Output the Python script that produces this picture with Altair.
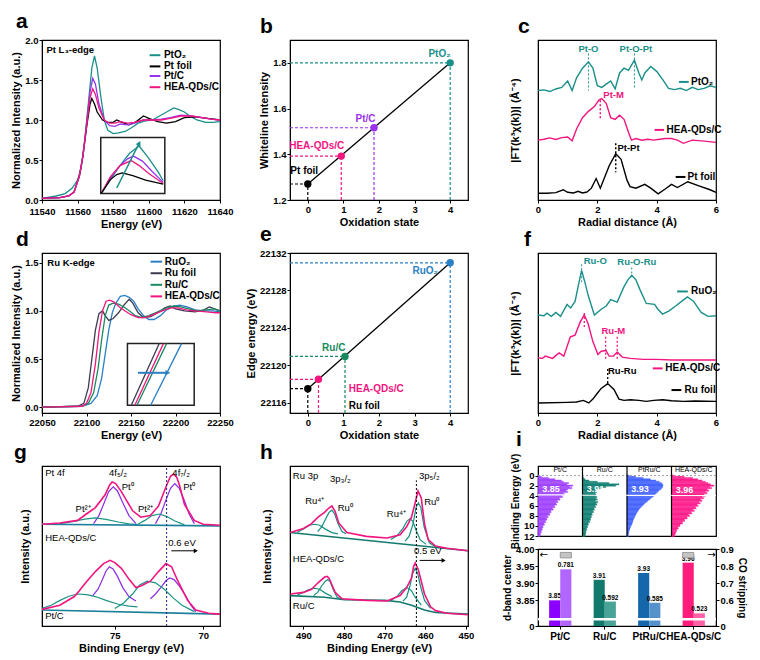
import altair as alt
import pandas as pd

FONT = "Liberation Sans"
TEAL = "#1a8f8a"; BLACK = "#000000"; PURPLE = "#9933ee"; PINK = "#f2157f"
BLUE = "#2b7fc4"; RUFOIL = "#3c3c50"; GREEN = "#178a5e"
W = 178; H = 160

# ---------------- a : Pt L3-edge XANES
A_PTO2_X = [11540,11548,11553,11557,11560,11562,11564,11566,11568,11569.5,11571,11573,11575,11577,11580,11583,11587,11590,11594,11598,11602,11606,11610,11614,11617,11620,11623,11627,11632,11636,11640]
A_PTO2_Y = [0.02,0.05,0.08,0.15,0.25,0.40,0.75,1.20,1.65,1.80,1.65,1.30,1.00,0.87,0.83,0.84,0.86,0.90,0.96,0.99,1.00,1.05,1.10,1.15,1.13,1.10,1.05,1.00,0.97,0.97,0.98]
A_FOIL_X = [11540,11550,11555,11558,11561,11563,11565,11567,11568,11569.5,11571,11574,11577,11580,11582,11585,11589,11593,11597,11600,11605,11610,11615,11620,11626,11633,11640]
A_FOIL_Y = [0.02,0.03,0.05,0.10,0.30,0.55,0.90,1.20,1.27,1.20,1.10,1.00,0.97,0.97,1.00,0.97,0.94,0.98,1.05,1.02,0.98,0.96,0.98,1.03,1.04,1.02,1.00]
A_PTC_X = [11540,11550,11555,11558,11561,11563,11565,11567,11568.5,11570,11572,11575,11578,11581,11584,11588,11592,11597,11602,11607,11612,11618,11624,11630,11635,11640]
A_PTC_Y = [0.02,0.03,0.05,0.10,0.30,0.55,0.95,1.35,1.52,1.45,1.20,1.00,0.93,0.92,0.95,0.94,0.96,1.00,1.00,1.01,1.03,1.06,1.05,1.03,1.01,1.00]
A_HEA_Y = [0.02,0.03,0.05,0.10,0.30,0.55,0.92,1.28,1.39,1.32,1.15,1.00,0.96,0.96,0.98,0.96,0.97,1.00,1.00,1.00,1.02,1.05,1.05,1.03,1.01,1.00]
AI_BOX = [11573, 11609, 0.08, 0.78]
AI_TEAL_X = [11573.4,11578.4,11583.8,11589.2,11594.6,11600.0,11605.4,11608.1]
AI_TEAL_Y = [0.087,0.255,0.43,0.584,0.675,0.521,0.346,0.241]
AI_PTC_X = [11573.4,11578.4,11583.8,11588.1,11591.4,11596.4,11601.8,11608.1]
AI_PTC_Y = [0.087,0.276,0.43,0.514,0.549,0.486,0.36,0.22]
AI_HEA_X = [11573.4,11578.4,11583.8,11590.1,11594.6,11600.0,11608.1]
AI_HEA_Y = [0.087,0.29,0.43,0.493,0.43,0.332,0.206]
AI_FOIL_X = [11573.4,11578.4,11582.0,11585.1,11591.0,11598.2,11608.1]
AI_FOIL_Y = [0.087,0.255,0.318,0.339,0.304,0.248,0.199]
AI_ARROW = [11582, 0.15, 11594.6, 0.71]
A_LEG = [("PtO₂", TEAL, 1.81), ("Pt foil", BLACK, 1.67), ("Pt/C", PURPLE, 1.55), ("HEA-QDs/C", PINK, 1.41)]

# ---------------- b : whiteline intensity
B_STATE = [0, 0.94, 1.86, 4]
B_WL = [1.27, 1.392, 1.516, 1.80]
B_COLS = [BLACK, PINK, PURPLE, TEAL]

# ---------------- c : Pt FT-EXAFS
C_PTO2_X = [0,0.2,0.4,0.6,0.8,1.0,1.15,1.3,1.5,1.7,1.85,2.0,2.15,2.3,2.45,2.6,2.75,2.9,3.05,3.25,3.4,3.5,3.6,3.8,4.0,4.2,4.4,4.6,4.8,5.0,5.2,5.4,5.6,5.8,6.0]
C_PTO2_Y = [3.42,3.44,3.39,3.47,3.52,3.72,3.42,3.82,4.12,4.32,4.12,3.57,3.52,3.62,3.72,3.47,3.97,4.12,4.05,4.37,3.97,3.75,3.97,4.17,4.02,3.77,3.49,3.45,3.49,3.42,3.52,3.45,3.49,3.57,3.52]
C_HEA_X = [0,0.2,0.4,0.6,0.8,1.0,1.15,1.3,1.5,1.7,1.9,2.05,2.15,2.3,2.45,2.6,2.75,2.9,3.05,3.15,3.3,3.5,3.7,3.9,4.1,4.3,4.5,4.7,4.9,5.2,5.6,6.0]
C_HEA_Y = [1.87,1.90,1.94,1.89,1.95,1.97,1.85,2.22,2.57,2.77,2.92,3.12,3.17,3.02,2.57,2.52,2.65,2.52,2.12,1.87,1.92,1.87,1.90,1.87,1.90,1.92,1.92,1.87,1.77,1.87,1.84,1.80]
C_FOIL_X = [0,0.3,0.6,0.85,1.0,1.2,1.35,1.5,1.65,1.8,1.96,2.1,2.25,2.4,2.62,2.8,3.0,3.1,3.3,3.6,3.8,4.05,4.3,4.5,4.7,5.05,5.4,5.8,6.0]
C_FOIL_Y = [0.21,0.21,0.23,0.32,0.24,0.22,0.27,0.22,0.25,0.37,0.67,0.37,0.72,1.07,1.45,1.27,0.62,0.42,0.37,0.49,0.37,0.19,0.35,0.49,0.39,0.57,0.45,0.32,0.24]

# ---------------- d : Ru K-edge XANES
D_RUO2_X = [22050,22095,22105,22112,22117,22121,22125,22129,22133,22138,22143,22148,22153,22158,22164,22170,22176,22183,22190,22198,22205,22213,22222,22232,22242,22250]
D_RUO2_Y = [0,0.01,0.04,0.12,0.30,0.55,0.80,0.98,1.08,1.15,1.16,1.14,1.10,1.02,0.95,0.91,0.91,0.95,1.01,1.05,1.06,1.04,1.01,1.00,1.00,0.99]
D_FOIL_X = [22050,22090,22097,22102,22106,22110,22114,22118,22121,22125,22130,22136,22142,22148,22152,22158,22164,22172,22180,22188,22194,22200,22210,22222,22232,22238,22244,22250]
D_FOIL_Y = [0,0.01,0.04,0.20,0.50,0.80,0.97,1.00,0.95,0.90,0.92,0.98,1.06,1.12,1.08,0.98,0.93,0.94,0.98,1.03,1.05,1.02,1.00,0.99,1.01,1.04,1.02,1.00]
D_RUC_X = [22050,22095,22102,22108,22113,22117,22121,22125,22130,22136,22142,22148,22155,22162,22170,22180,22190,22198,22206,22215,22225,22235,22243,22250]
D_RUC_Y = [0,0.01,0.04,0.15,0.40,0.70,0.95,1.06,1.08,1.07,1.04,1.00,0.95,0.93,0.95,0.99,1.03,1.05,1.04,1.02,1.00,1.01,1.02,1.00]
D_HEA_X = [22050,22095,22100,22105,22110,22114,22118,22122,22126,22131,22137,22143,22150,22158,22166,22175,22185,22195,22203,22212,22222,22235,22245,22250]
D_HEA_Y = [0,0.01,0.04,0.15,0.45,0.78,1.00,1.10,1.11,1.09,1.04,1.00,0.96,0.93,0.93,0.96,1.00,1.03,1.03,1.01,1.00,0.99,0.98,0.98]
DI_BOX = [22146, 22221, 0.02, 0.66]
DI_LINES = [("Ru foil", RUFOIL, 22150.3, 22181.7), ("HEA-QDs/C", PINK, 22154.3, 22186.4),
            ("Ru/C", GREEN, 22156.7, 22190.0), ("RuO₂", BLUE, 22172.1, 22206.8)]
DI_ARROW = [22157.8, 22191.4, 0.357]
D_LEG = [("RuO₂", BLUE, 1.51), ("Ru foil", RUFOIL, 1.39), ("Ru/C", GREEN, 1.27), ("HEA-QDs/C", PINK, 1.15)]

# ---------------- e : edge energy
E_STATE = [0, 0.30, 1.045, 4]
E_EDGE = [22117.5, 22118.5, 22120.95, 22130.95]
E_COLS = [BLACK, PINK, GREEN, BLUE]

# ---------------- f : Ru FT-EXAFS
F_RUO2_X = [0,0.2,0.3,0.45,0.6,0.76,0.98,1.1,1.25,1.36,1.47,1.58,1.7,1.9,2.13,2.3,2.45,2.67,2.9,3.03,3.16,3.3,3.44,3.65,3.93,4.04,4.2,4.42,4.64,4.85,5.04,5.24,5.5,5.73,6.0]
F_RUO2_Y = [3.03,3.01,3.09,2.99,3.11,2.99,3.36,3.25,3.45,3.95,4.41,4.05,3.61,3.03,3.21,3.31,3.51,3.43,3.91,4.12,4.26,4.12,3.81,3.39,3.36,3.21,3.06,3.16,3.31,3.46,3.59,3.46,3.11,2.99,3.01]
F_HEA_X = [0,0.15,0.25,0.49,0.71,0.87,1.09,1.25,1.42,1.56,1.69,1.85,2.02,2.13,2.29,2.4,2.54,2.67,2.84,3.11,3.55,3.98,4.53,5.07,6.0]
F_HEA_Y = [1.71,1.69,1.76,1.69,1.86,1.76,2.36,2.41,2.81,3.04,2.76,2.21,1.81,1.91,1.93,1.76,1.76,1.89,1.73,1.69,1.66,1.66,1.64,1.64,1.64]
F_FOIL_X = [0,1.0,1.3,1.53,1.71,1.85,2.0,2.13,2.35,2.56,2.73,2.9,3.11,3.4,3.65,3.9,4.2,4.5,4.9,5.3,6.0]
F_FOIL_Y = [0.31,0.33,0.34,0.39,0.31,0.43,0.61,0.76,0.91,0.73,0.43,0.39,0.41,0.39,0.36,0.39,0.41,0.38,0.36,0.37,0.36]

# ---------------- g : Pt 4f XPS
G_HEA_ENV_X = [79.12,78.11,77.11,76.61,76.10,75.55,75.30,75.15,74.95,74.63,73.99,73.53,72.99,72.53,72.07,71.85,71.67,71.5,71.34,71.06,70.51,70.0,69.05]
G_HEA_ENV_Y = [3.18,3.22,3.30,3.50,3.70,4.10,4.40,4.50,4.45,4.20,3.60,3.40,3.45,3.75,4.40,4.68,4.75,4.65,4.40,3.80,3.30,3.18,3.15]
G_HEA_COMPS = [
    ("h_p1", "pt0", [76.2,75.9,75.6,75.35,75.09,74.85,74.55,74.2,73.8], [3.2,3.45,3.85,4.2,4.35,4.22,3.85,3.45,3.2], 3.17),
    ("h_p2", "pt0", [72.7,72.4,72.1,71.85,71.61,71.35,71.05,70.8,70.5], [3.2,3.5,3.95,4.3,4.45,4.3,3.9,3.5,3.2], 3.15),
    ("h_t1", "pt2", [78.1,77.4,76.7,76.1,75.5,74.8,74.2,73.7], [3.2,3.26,3.34,3.38,3.33,3.25,3.19,3.17], 3.16),
    ("h_t2", "pt2", [73.7,73.3,72.9,72.47,72.05,71.6,71.06], [3.18,3.3,3.45,3.5,3.42,3.28,3.16], 3.15),
]
G_HEA_BASE = ([79.12, 69.05], [3.18, 3.13])
G_PTC_ENV_X = [79.12,78.11,77.29,77.01,76.65,76.10,75.64,75.27,75.0,74.63,74.18,73.81,73.53,72.99,72.53,72.11,71.79,71.43,70.88,70.42,69.69,69.05]
G_PTC_ENV_Y = [0.52,0.65,0.92,1.10,1.35,1.70,1.95,2.05,1.98,1.80,1.45,1.20,1.25,1.40,1.70,1.95,1.85,1.40,0.80,0.50,0.40,0.37]
G_PTC_COMPS = [
    ("c_p1", "pt0", [76.25,75.95,75.7,75.5,75.31,75.1,74.85,74.55,74.2,73.81], [0.95,1.15,1.45,1.72,1.85,1.78,1.55,1.2,0.92,0.78], 0.46),
    ("c_p2", "pt0", [72.99,72.7,72.4,72.1,71.89,71.65,71.35,71.0,70.7,70.42], [0.85,1.0,1.2,1.42,1.5,1.45,1.25,0.95,0.65,0.45], 0.42),
    ("c_t1", "pt2", [79.12,78.6,78.1,77.6,77.11,76.6,76.1,75.5,74.8,74.2,73.72], [0.55,0.65,0.8,0.93,1.0,0.98,0.92,0.8,0.68,0.62,0.6], 0.48),
    ("c_t2", "pt2", [75.0,74.5,74.0,73.6,73.17,72.7,72.2,71.7,71.2,70.5], [0.55,0.72,1.0,1.28,1.4,1.35,1.15,0.88,0.65,0.45], 0.42),
]
G_PTC_BASE = ([79.12, 69.05], [0.50, 0.37])
G_SHIFT_LINE = 72.07

# ---------------- h : Ru 3p XPS
H_HEA_ENV_X = [493.2,490,488,486.4,484.8,483.8,483.0,482.2,481.3,479.3,474.5,469.4,466.2,464.6,463.4,462.5,461.8,461.0,460.2,459.3,457.5,454.7,449.5]
H_HEA_ENV_Y = [2.92,3.05,3.20,3.40,3.55,3.68,3.75,3.58,3.22,2.92,2.80,2.75,2.85,3.10,3.40,3.85,4.22,4.00,3.20,2.70,2.50,2.43,2.35]
H_HEA_COMPS = [
    ("hh1", [486.5,485.5,484.5,483.7,483.0,482.3,481.5,480.5,479.5], [2.95,3.1,3.35,3.55,3.62,3.5,3.2,2.95,2.88], 2.85),
    ("hh2", [491.5,490,488.5,487.2,486,484.5,483,481.5], [2.93,3.03,3.15,3.18,3.15,3.02,2.92,2.88], 2.86),
    ("hh3", [465,464,463,462.3,461.7,461.1,460.3,459,457.5], [2.65,2.8,3.2,3.7,3.85,3.7,3.1,2.6,2.48], 2.45),
    ("hh4", [468.5,467,465.5,464.5,463.8,463.1,462.3,461.3,459.8], [2.7,2.82,3.05,3.28,3.35,3.28,3.0,2.7,2.55], 2.5),
]
H_HEA_BASE = ([493.3, 449.5], [2.92, 2.35])
H_RUC_ENV_X = [493.2,490,488,486.4,484.8,484.2,483.7,482.2,480.5,474.5,469.4,466.2,464.6,463.4,462.9,462.5,461.7,460.2,458.7,457.5,454.7,449.5]
H_RUC_ENV_Y = [1.0,1.05,1.15,1.35,1.53,1.55,1.50,1.05,0.85,0.80,0.78,0.95,1.20,1.50,1.85,1.97,1.75,1.00,0.60,0.48,0.40,0.35]
H_RUC_COMPS = [
    ("hc1", [487.5,486.5,485.5,484.6,484.0,483.4,482.7,481.7,480.7], [0.95,1.05,1.25,1.4,1.45,1.38,1.15,0.9,0.85], 0.84),
    ("hc2", [491.5,490,488.5,487.2,486,484.5,483], [0.97,1.05,1.15,1.18,1.15,1.02,0.92], 0.9),
    ("hc3", [465.5,464.6,463.8,463.1,462.5,461.9,461.2,460.2,458.7], [0.78,0.9,1.25,1.65,1.8,1.65,1.25,0.8,0.55], 0.5),
    ("hc4", [468.5,467,465.8,464.6,463.5,462.5,461], [0.8,0.92,1.1,1.2,1.12,0.9,0.65], 0.6),
]
H_RUC_BASE = ([493.2,484.8,479.9,469.9,466.2,463.4,460.2,457.5,449.5], [0.95,0.90,0.82,0.80,0.75,0.65,0.50,0.42,0.37])
H_SHIFT_LINE = 462.2

# ---------------- i : d-band DOS and bars
DOS_E = [0,0.25,0.5,0.75,1,1.25,1.5,1.75,2,2.25,2.5,2.75,3,3.25,3.5,3.75,4,4.25,4.5,4.75,5,5.25,5.5,5.75,6,6.25,6.5,6.75,7,7.25,7.5,7.75,8,8.25,8.5,8.75,9,9.25,9.5,9.75,10,10.25,10.5,10.75,11,11.25,11.5,11.75,12]
DOS_PTC = [0.02,0.08,0.25,0.4,0.55,0.6,0.72,0.68,0.82,0.75,0.8,0.7,0.66,0.7,0.6,0.63,0.56,0.58,0.5,0.52,0.45,0.47,0.42,0.44,0.38,0.4,0.34,0.36,0.3,0.31,0.27,0.28,0.22,0.24,0.2,0.21,0.17,0.18,0.14,0.15,0.11,0.12,0.09,0.1,0.07,0.08,0.05,0.06,0.04]
DOS_RUC = [0.0,0.01,0.03,0.06,0.15,0.35,0.62,0.86,0.78,0.55,0.42,0.36,0.3,0.33,0.29,0.32,0.3,0.34,0.31,0.35,0.3,0.36,0.32,0.34,0.29,0.31,0.27,0.28,0.24,0.26,0.22,0.23,0.2,0.21,0.18,0.19,0.16,0.17,0.13,0.14,0.11,0.12,0.09,0.1,0.08,0.08,0.07,0.07,0.06]
DOS_PTRU = [0.05,0.2,0.38,0.55,0.68,0.76,0.81,0.84,0.85,0.84,0.82,0.79,0.75,0.72,0.69,0.66,0.63,0.6,0.56,0.53,0.49,0.46,0.42,0.39,0.36,0.33,0.3,0.28,0.26,0.24,0.22,0.21,0.19,0.18,0.16,0.15,0.14,0.13,0.12,0.11,0.09,0.08,0.07,0.06,0.05,0.04,0.04,0.03,0.03]
DOS_HEA = [0.05,0.3,0.5,0.62,0.72,0.8,0.86,0.92,1.0,0.9,0.95,0.84,0.88,0.8,0.84,0.76,0.8,0.72,0.76,0.68,0.72,0.64,0.68,0.6,0.63,0.56,0.58,0.5,0.54,0.46,0.48,0.4,0.43,0.36,0.37,0.3,0.31,0.25,0.26,0.2,0.2,0.15,0.16,0.12,0.12,0.1,0.09,0.08,0.07]
CATS = ["Pt/C", "Ru/C", "PtRu/C", "HEA-QDs/C"]
DBAND = [3.85, 3.91, 3.93, 3.96]
COSTRIP = [0.781, 0.592, 0.585, 0.523]
DOS_COLS = ["#a040ff", "#0e7f72", "#4060ff", "#ff1a8c"]
DB_COLS = ["#8c00ff", "#117a6c", "#1566aa", "#ff1c7c"]
CO_COLS = ["#b066ff", "#4aa397", "#5592cc", "#ff62a4"]


# ================= helpers
def mk_df(series):
    rows = []
    for name, col, xs, ys in series:
        for k, (x, y) in enumerate(zip(xs, ys)):
            rows.append(dict(s=name, col=col, x=x, y=y, k=k))
    return pd.DataFrame(rows)


def lines(df, X, Y, sw=1.3, dash=None):
    kw = dict(strokeWidth=sw)
    if dash:
        kw["strokeDash"] = dash
    return alt.Chart(df).mark_line(**kw).encode(
        x=X, y=Y, color=alt.Color("col:N", scale=None), detail="s:N", order="k:Q")


def texts(rows, X, Y, size=10, weight="bold", align="center", baseline="middle"):
    df = pd.DataFrame(rows, columns=["t", "x", "y", "col"])
    return alt.Chart(df).mark_text(font=FONT, fontSize=size, fontWeight=weight,
                                   align=align, baseline=baseline).encode(
        x=X, y=Y, text="t:N", color=alt.Color("col:N", scale=None))


def hsegs(rows, X, Y, sw=1.5, dash=None):
    df = pd.DataFrame(rows, columns=["x", "x2", "y", "col"])
    kw = dict(strokeWidth=sw)
    if dash:
        kw["strokeDash"] = dash
    return alt.Chart(df).mark_rule(**kw).encode(
        x=X, x2="x2:Q", y=Y, color=alt.Color("col:N", scale=None))


def vsegs(rows, X, Y, sw=1.0, dash=None):
    df = pd.DataFrame(rows, columns=["x", "y", "y2", "col"])
    kw = dict(strokeWidth=sw)
    if dash:
        kw["strokeDash"] = dash
    return alt.Chart(df).mark_rule(**kw).encode(
        x=X, y=Y, y2="y2:Q", color=alt.Color("col:N", scale=None))


def heads(rows, X, Y, shape, angle=0, size=28):
    df = pd.DataFrame(rows, columns=["x", "y", "col"])
    return alt.Chart(df).mark_point(shape=shape, filled=True, size=size, angle=angle, opacity=1).encode(
        x=X, y=Y, color=alt.Color("col:N", scale=None))


def box(b, X, Y, sw=1.5):
    df = pd.DataFrame([dict(x=b[0], x2=b[1], y=b[2], y2=b[3])])
    return alt.Chart(df).mark_rect(fill="white", stroke="#222222", strokeWidth=sw).encode(
        x=X, x2="x2:Q", y=Y, y2="y2:Q")


def grad_area(comps, X, Y, top):
    rows = []
    for name, xs, ys, b in comps:
        for k, (x, y) in enumerate(zip(xs, ys)):
            rows.append(dict(s=name, x=x, y=y, b=b, k=k))
    g = alt.Gradient(gradient="linear", x1=0, x2=0, y1=0, y2=1,
                     stops=[alt.GradientStop(color=top, offset=0),
                            alt.GradientStop(color="#ffffff", offset=1)])
    return alt.Chart(pd.DataFrame(rows)).mark_area(color=g, opacity=0.9).encode(
        x=X, y=Y, y2="b:Q", detail="s:N", order="k:Q")


def ptitle(letter, dx):
    return alt.TitleParams(text=letter, anchor="start", frame="group", fontSize=21,
                           fontWeight="bold", font=FONT, color="black", dx=dx, offset=3)


# ================= panel a
XA = alt.X("x:Q", scale=alt.Scale(domain=[11540, 11640], nice=False),
           axis=alt.Axis(title="Energy (eV)", values=[11540, 11560, 11580, 11600, 11620, 11640], format="d",
                         labelPadding=3))
YA = alt.Y("y:Q", scale=alt.Scale(domain=[0, 2.0], nice=False),
           axis=alt.Axis(title="Normalized Intensity (a.u.)", values=[0, 0.5, 1.0, 1.5, 2.0], format=".1f"))
a_main = mk_df([("PtO2", TEAL, A_PTO2_X, A_PTO2_Y), ("foil", BLACK, A_FOIL_X, A_FOIL_Y),
                ("PtC", PURPLE, A_PTC_X, A_PTC_Y), ("HEA", PINK, A_PTC_X, A_HEA_Y)])
a_ins = mk_df([("PtO2", TEAL, AI_TEAL_X, AI_TEAL_Y), ("PtC", PURPLE, AI_PTC_X, AI_PTC_Y),
               ("HEA", PINK, AI_HEA_X, AI_HEA_Y), ("foil", BLACK, AI_FOIL_X, AI_FOIL_Y)])
a_arrow = mk_df([("arr", TEAL, [AI_ARROW[0], AI_ARROW[2]], [AI_ARROW[1], AI_ARROW[3]])])
pa = alt.layer(
    lines(a_main, XA, YA),
    box(AI_BOX, XA, YA),
    lines(a_ins, XA, YA, sw=1.3),
    lines(a_arrow, XA, YA, sw=1.5),
    heads([(AI_ARROW[2], AI_ARROW[3], TEAL)], XA, YA, "triangle-up", angle=26, size=30),
    hsegs([(11600.5, 11606.5, y, c) for _, c, y in A_LEG], XA, YA, sw=2),
    texts([(n, 11608.5, y, BLACK) for n, _, y in A_LEG], XA, YA, size=10, align="left"),
    texts([("Pt L₃-edge", 11542.5, 1.88, BLACK)], XA, YA, size=9.5, align="left"),
).properties(width=W, height=H, title=ptitle("a", -26))

# ================= panel b
XBo = alt.X("x:Q", scale=alt.Scale(domain=[-0.5, 4.5], nice=False),
            axis=alt.Axis(title="Oxidation state", values=[0, 1, 2, 3, 4], format="d"))
YBo = alt.Y("y:Q", scale=alt.Scale(domain=[1.2, 1.9], nice=False),
            axis=alt.Axis(title="Whiteline Intensity", values=[1.2, 1.4, 1.6, 1.8], format=".1f"))
b_pts = pd.DataFrame(dict(x=B_STATE, y=B_WL, col=B_COLS))
b_fit = mk_df([("fit", BLACK, [B_STATE[0], B_STATE[-1]], [B_WL[0], B_WL[-1]])])
pb = alt.layer(
    hsegs([(-0.5, x, y, c) for x, y, c in zip(B_STATE, B_WL, B_COLS)], XBo, YBo, sw=1.2, dash=[3, 2]),
    vsegs([(x, 1.2, y, c) for x, y, c in zip(B_STATE, B_WL, B_COLS)], XBo, YBo, sw=1.2, dash=[3, 2]),
    lines(b_fit, XBo, YBo, sw=1.3),
    alt.Chart(b_pts).mark_circle(size=55, opacity=1).encode(x=XBo, y=YBo, color=alt.Color("col:N", scale=None)),
    texts([("PtO₂", 3.7, 1.838, TEAL), ("Pt/C", 1.62, 1.556, PURPLE),
           ("HEA-QDs/C", 0.25, 1.437, PINK), ("Pt foil", -0.1, 1.326, BLACK)], XBo, YBo, size=10),
).properties(width=W, height=H, title=ptitle("b", -30))

# ================= panel c
FT_TITLE = "|FT(k³χ(k))| (Å⁻⁴)"
XC = alt.X("x:Q", scale=alt.Scale(domain=[0, 6], nice=False),
           axis=alt.Axis(title="Radial distance (Å)", values=[0, 2, 4, 6], format="d"))
YC = alt.Y("y:Q", scale=alt.Scale(domain=[0, 5.0], nice=False),
           axis=alt.Axis(title=FT_TITLE, labels=False, ticks=False, titlePadding=18))
c_df = mk_df([("PtO2", TEAL, C_PTO2_X, C_PTO2_Y), ("HEA", PINK, C_HEA_X, C_HEA_Y), ("foil", BLACK, C_FOIL_X, C_FOIL_Y)])
pc = alt.layer(
    vsegs([(1.7, 4.58, 3.42, TEAL), (3.25, 4.58, 3.47, TEAL)], XC, YC, sw=1, dash=[2, 2]),
    vsegs([(2.1, 3.12, 2.52, PINK), (2.62, 1.77, 0.87, BLACK)], XC, YC, sw=1.5, dash=[2, 2]),
    lines(c_df, XC, YC, sw=1.4),
    texts([("Pt-O", 1.7, 4.72, TEAL), ("Pt-O-Pt", 3.3, 4.72, TEAL), ("Pt-M", 2.55, 3.27, PINK),
           ("Pt-Pt", 3.05, 1.62, BLACK)], XC, YC, size=9.5),
    hsegs([(4.75, 5.08, 3.69, TEAL), (3.93, 4.25, 2.19, PINK), (4.64, 4.97, 0.72, BLACK)], XC, YC, sw=2),
    texts([("PtO₂", 5.16, 3.69, BLACK), ("HEA-QDs/C", 4.33, 2.19, BLACK), ("Pt foil", 5.04, 0.72, BLACK)],
          XC, YC, size=10, align="left"),
).properties(width=W, height=H, title=ptitle("c", -20))

# ================= panel d
XD = alt.X("x:Q", scale=alt.Scale(domain=[22050, 22250], nice=False),
           axis=alt.Axis(title="Energy (eV)", values=[22050, 22100, 22150, 22200, 22250], format="d"))
YD = alt.Y("y:Q", scale=alt.Scale(domain=[-0.06, 1.6], nice=False),
           axis=alt.Axis(title="Normalized Intensity (a.u.)", values=[0, 0.5, 1.0, 1.5], format=".1f"))
d_df = mk_df([("RuO2", BLUE, D_RUO2_X, D_RUO2_Y), ("foil", RUFOIL, D_FOIL_X, D_FOIL_Y),
              ("RuC", GREEN, D_RUC_X, D_RUC_Y), ("HEA", PINK, D_HEA_X, D_HEA_Y)])
di_df = mk_df([(n, c, [x0, x1], [DI_BOX[2], DI_BOX[3]]) for n, c, x0, x1 in DI_LINES])
di_arr = mk_df([("arr", BLUE, [DI_ARROW[0], DI_ARROW[1]], [DI_ARROW[2], DI_ARROW[2]])])
pd_ = alt.layer(
    lines(d_df, XD, YD),
    box(DI_BOX, XD, YD),
    lines(di_df, XD, YD, sw=1.3),
    lines(di_arr, XD, YD, sw=2),
    heads([(DI_ARROW[1], DI_ARROW[2], BLUE)], XD, YD, "triangle-right", size=30),
    hsegs([(22172, 22185, y, c) for _, c, y in D_LEG], XD, YD, sw=2),
    texts([(n, 22188, y, BLACK) for n, _, y in D_LEG], XD, YD, size=10, align="left"),
    texts([("Ru K-edge", 22056, 1.5, BLACK)], XD, YD, size=9.5, align="left"),
).properties(width=W, height=H, title=ptitle("d", -26))

# ================= panel e
XE = alt.X("x:Q", scale=alt.Scale(domain=[-0.5, 4.5], nice=False),
           axis=alt.Axis(title="Oxidation state", values=[0, 1, 2, 3, 4], format="d"))
YE = alt.Y("y:Q", scale=alt.Scale(domain=[22114.9, 22132], nice=False, zero=False),
           axis=alt.Axis(title="Edge energy (eV)", values=[22116, 22120, 22124, 22128, 22132], format="d"))
e_pts = pd.DataFrame(dict(x=E_STATE, y=E_EDGE, col=E_COLS))
e_fit = mk_df([("fit", BLACK, [E_STATE[0], E_STATE[-1]], [E_EDGE[0], E_EDGE[-1]])])
pe = alt.layer(
    hsegs([(-0.5, x, y, c) for x, y, c in zip(E_STATE, E_EDGE, E_COLS)], XE, YE, sw=1.2, dash=[3, 2]),
    vsegs([(x, 22114.9, y, c) for x, y, c in zip(E_STATE, E_EDGE, E_COLS)], XE, YE, sw=1.2, dash=[3, 2]),
    lines(e_fit, XE, YE, sw=1.3),
    alt.Chart(e_pts).mark_circle(size=55, opacity=1).encode(x=XE, y=YE, color=alt.Color("col:N", scale=None)),
    texts([("RuO₂", 3.3, 22130.1, BLUE), ("Ru/C", 0.73, 22121.9, GREEN)], XE, YE, size=10),
    texts([("HEA-QDs/C", 1.15, 22117.5, PINK), ("Ru foil", 1.15, 22115.7, BLACK)], XE, YE, size=10, align="left"),
).properties(width=W, height=H, title=ptitle("e", -30))

# ================= panel f
XF = alt.X("x:Q", scale=alt.Scale(domain=[0, 6], nice=False),
           axis=alt.Axis(title="Radial distance (Å)", values=[0, 2, 4, 6], format="d"))
YF = alt.Y("y:Q", scale=alt.Scale(domain=[0, 4.95], nice=False),
           axis=alt.Axis(title=FT_TITLE, labels=False, ticks=False, titlePadding=18))
f_df = mk_df([("RuO2", TEAL, F_RUO2_X, F_RUO2_Y), ("HEA", PINK, F_HEA_X, F_HEA_Y), ("foil", BLACK, F_FOIL_X, F_FOIL_Y)])
pf = alt.layer(
    vsegs([(1.47, 4.6, 4.05, TEAL), (3.16, 4.5, 4.2, TEAL)], XF, YF, sw=1, dash=[2, 2]),
    vsegs([(1.56, 3.09, 2.66, PINK), (2.28, 2.36, 1.66, PINK), (2.67, 2.36, 1.66, PINK),
           (2.35, 1.36, 0.91, BLACK)], XF, YF, sw=1.3, dash=[2, 2]),
    lines(f_df, XF, YF, sw=1.4),
    texts([("Ru-O", 1.93, 4.69, TEAL), ("Ru-O-Ru", 3.33, 4.66, TEAL), ("Ru-M", 2.54, 2.53, PINK),
           ("Ru-Ru", 2.84, 1.29, BLACK)], XF, YF, size=9.5),
    hsegs([(4.69, 5.05, 3.76, TEAL), (3.87, 4.2, 1.38, PINK), (4.5, 4.83, 0.71, BLACK)], XF, YF, sw=2),
    texts([("RuO₂", 5.16, 3.76, BLACK), ("HEA-QDs/C", 4.29, 1.38, BLACK), ("Ru foil", 4.94, 0.71, BLACK)],
          XF, YF, size=10, align="left"),
).properties(width=W, height=H, title=ptitle("f", -14))

# ================= panel g
XG = alt.X("x:Q", scale=alt.Scale(domain=[69.05, 79.12], reverse=True, nice=False, zero=False),
           axis=alt.Axis(title="Binding Energy (eV)", values=[70, 75], format="d"))
YG = alt.Y("y:Q", scale=alt.Scale(domain=[0, 5], nice=False),
           axis=alt.Axis(title="Intensity (a.u.)", labels=False, ticks=False, titlePadding=12))
g_pt0 = [(n, xs, ys, b) for n, k, xs, ys, b in G_HEA_COMPS + G_PTC_COMPS if k == "pt0"]
g_pt2 = [(n, xs, ys, b) for n, k, xs, ys, b in G_HEA_COMPS + G_PTC_COMPS if k == "pt2"]
g_cl = mk_df([(n, "#8a2be2" if k == "pt0" else "#1b9485", xs, ys) for n, k, xs, ys, b in G_HEA_COMPS + G_PTC_COMPS])
g_base = mk_df([("b1", "#1a7f9a", *G_HEA_BASE), ("b2", "#1a7f9a", *G_PTC_BASE)])
g_env = mk_df([("e1", PINK, G_HEA_ENV_X, G_HEA_ENV_Y), ("e2", PINK, G_PTC_ENV_X, G_PTC_ENV_Y)])
g_arr = mk_df([("arr", BLACK, [71.8, 70.42], [2.35, 2.35])])
pg = alt.layer(
    grad_area(g_pt2, XG, YG, "#7ccfc0"),
    grad_area(g_pt0, XG, YG, "#c27be6"),
    lines(g_cl, XG, YG, sw=1.2),
    lines(g_base, XG, YG, sw=1.6),
    lines(g_env, XG, YG, sw=1.6),
    vsegs([(G_SHIFT_LINE, 0, 5, "#1a237e")], XG, YG, sw=1, dash=[2, 2]),
    lines(g_arr, XG, YG, sw=1),
    heads([(70.42, 2.35, BLACK)], XG, YG, "triangle-right", size=22),
    texts([("4f₅/₂", 74.82, 4.78, BLACK), ("Pt⁰", 74.27, 4.35, BLACK), ("Pt²⁺", 76.79, 3.66, BLACK),
           ("Pt²⁺", 73.26, 3.66, BLACK), ("4f₇/₂", 71.25, 4.78, BLACK), ("Pt⁰", 70.79, 4.35, BLACK),
           ("0.6 eV", 71.2, 2.6, BLACK)], XG, YG, size=9.5, weight="normal"),
    texts([("Pt 4f", 78.94, 4.78, BLACK), ("HEA-QDs/C", 78.94, 2.75, BLACK), ("Pt/C", 78.94, 0.3, BLACK)],
          XG, YG, size=9.5, weight="normal", align="left"),
).properties(width=W, height=H, title=ptitle("g", -28))

# ================= panel h
XH = alt.X("x:Q", scale=alt.Scale(domain=[449.5, 493.3], reverse=True, nice=False, zero=False),
           axis=alt.Axis(title="Binding Energy (eV)", values=[450, 460, 470, 480, 490], format="d"))
YH = alt.Y("y:Q", scale=alt.Scale(domain=[0, 5], nice=False),
           axis=alt.Axis(title="Intensity (a.u.)", labels=False, ticks=False, titlePadding=18))
h_comps = H_HEA_COMPS + H_RUC_COMPS
h_cl = mk_df([(n, "#12907f", xs, ys) for n, xs, ys, b in h_comps])
h_base = mk_df([("b1", "#147a6e", *H_HEA_BASE), ("b2", "#147a6e", *H_RUC_BASE)])
h_env = mk_df([("e1", PINK, H_HEA_ENV_X, H_HEA_ENV_Y), ("e2", PINK, H_RUC_ENV_X, H_RUC_ENV_Y)])
h_arr = mk_df([("arr", BLACK, [461.4, 455.5], [2.05, 2.05])])
ph = alt.layer(
    grad_area(h_comps, XH, YH, "#6cc7b6"),
    lines(h_cl, XH, YH, sw=1.2),
    lines(h_base, XH, YH, sw=1.6),
    lines(h_env, XH, YH, sw=1.6),
    vsegs([(H_SHIFT_LINE, 0, 4.55, BLACK)], XH, YH, sw=1, dash=[2, 2]),
    lines(h_arr, XH, YH, sw=1),
    heads([(455.5, 2.05, BLACK)], XH, YH, "triangle-right", size=22),
    texts([("3p₃/₂", 480.9, 4.6, BLACK), ("3p₅/₂", 459.0, 4.68, BLACK), ("Ru⁴⁺", 487.2, 3.9, BLACK),
           ("Ru⁰", 479.7, 3.68, BLACK), ("Ru⁴⁺", 467.1, 3.5, BLACK), ("Ru⁰", 458.4, 3.88, BLACK),
           ("0.5 eV", 459.4, 2.35, BLACK)], XH, YH, size=9.5, weight="normal"),
    texts([("Ru 3p", 492.6, 4.68, BLACK), ("HEA-QDs/C", 492.6, 2.1, BLACK), ("Ru/C", 492.6, 0.62, BLACK)],
          XH, YH, size=9.5, weight="normal", align="left"),
).properties(width=W, height=H, title=ptitle("h", -30))

# ================= panel i (top: four DOS strips in one view, bottom: bars)
PSTEP = 1.05
dos_rows = []
for k, vals in enumerate([DOS_PTC, DOS_RUC, DOS_PTRU, DOS_HEA]):
    for e, v in zip(DOS_E, vals):
        dos_rows.append(dict(k=k, E=e, v=v, col=DOS_COLS[k]))
dos_df = pd.DataFrame(dos_rows)
YS_DOS = alt.Scale(domain=[-1.9, 12], reverse=True, nice=False, zero=False)
YAX_DOS = alt.Axis(title="Binding Energy (eV)", values=[0, 2, 4, 6, 8, 10, 12], format="d", titleFontSize=10)


def ydos(field):
    return alt.Y(field, scale=YS_DOS, axis=YAX_DOS)


XDos = alt.X("xx:Q", scale=alt.Scale(domain=[0, 4 * PSTEP], nice=False, zero=False), axis=None)
meta_df = pd.DataFrame(dict(k=[0, 1, 2, 3], name=CATS, c=DBAND, lab=[f"{v:.2f}" for v in DBAND]))
dos_rect = alt.Chart(dos_df).transform_calculate(
    xx=f"datum.k * {PSTEP} + datum.v", x0=f"datum.k * {PSTEP}",
    ylo="datum.E - 0.125", yhi="datum.E + 0.125"
).mark_rect(strokeWidth=0.4, opacity=0.95).encode(
    x=XDos, x2="x0:Q", y=ydos("ylo:Q"), y2="yhi:Q",
    color=alt.Color("col:N", scale=None), stroke=alt.Stroke("col:N", scale=None))
dos_zero = alt.Chart(pd.DataFrame({"E": [0]})).mark_rule(
    color="#888888", strokeDash=[2, 2], strokeWidth=0.8).encode(y=ydos("E:Q"))
dos_sep = alt.Chart(meta_df[meta_df.k > 0]).transform_calculate(xx=f"datum.k * {PSTEP}").mark_rule(
    color="black", strokeWidth=1.2).encode(x=XDos)
dos_cen = alt.Chart(meta_df).transform_calculate(
    xx=f"datum.k * {PSTEP}", xe=f"datum.k * {PSTEP} + {PSTEP}"
).mark_rule(color="white", strokeWidth=1.2).encode(x=XDos, x2="xe:Q", y=ydos("c:Q"))
dos_lab = alt.Chart(meta_df).transform_calculate(
    xx=f"datum.k * {PSTEP} + 0.1"
).mark_text(font=FONT, fontSize=9, fontWeight="bold", color="white", align="left", baseline="bottom", dy=-1).encode(
    x=XDos, y=ydos("c:Q"), text="lab:N")
dos_nm = alt.Chart(meta_df).transform_calculate(
    xx=f"datum.k * {PSTEP} + {PSTEP / 2}", ey="-1.05"
).mark_text(font=FONT, fontSize=7, color="black", baseline="middle").encode(x=XDos, y=ydos("ey:Q"), text="name:N")
dos_chart = alt.layer(dos_rect, dos_zero, dos_sep, dos_cen, dos_lab, dos_nm).properties(
    width=W, height=70, title=ptitle("i", -22))

XBar = alt.X("cat:N", scale=alt.Scale(domain=CATS, paddingInner=0.5, paddingOuter=0.25),
             axis=alt.Axis(title=None, labelAngle=0, labelFontSize=10, labelPadding=2))
XOff = alt.XOffset("s:N", scale=alt.Scale(domain=["d", "co"]))
YL = alt.Y("v:Q", scale=alt.Scale(domain=[3.775, 4.0], nice=False, zero=False),
           axis=alt.Axis(title="d-band center", values=[3.775, 3.85, 3.9, 3.95, 4.0], titleFontSize=10,
                         labelExpr="datum.value < 3.8 ? '0' : format(datum.value, '.2f')"))
YR = alt.Y("v:Q", scale=alt.Scale(domain=[0.449, 0.9], nice=False, zero=False),
           axis=alt.Axis(title="CO stripping", orient="right", values=[0.449, 0.6, 0.7, 0.8, 0.9], titleFontSize=10,
                         labelExpr="datum.value < 0.5 ? '0' : format(datum.value, '.1f')"))
db_df = pd.DataFrame(dict(cat=CATS, s="d", v=DBAND, base=3.775, col=DB_COLS, lab=[f"{v:.2f}" for v in DBAND]))
co_df = pd.DataFrame(dict(cat=CATS, s="co", v=COSTRIP, base=0.449, col=CO_COLS, lab=[f"{v:.3f}" for v in COSTRIP]))
gbox_df = pd.DataFrame(dict(cat=["Pt/C", "HEA-QDs/C"], s=["co", "d"], v=[3.99, 3.99], v2=[3.974, 3.974]))
arr_l = pd.DataFrame(dict(cat=["Pt/C"], s=["d"], v=[3.982], t=["←"]))
arr_r = pd.DataFrame(dict(cat=["HEA-QDs/C"], s=["co"], v=[3.982], t=["→"]))
left = alt.layer(
    alt.Chart(db_df).mark_bar().encode(x=XBar, xOffset=XOff, y=YL, y2="base:Q", color=alt.Color("col:N", scale=None)),
    alt.Chart(db_df).mark_text(font=FONT, fontSize=6.5, fontWeight="bold", baseline="bottom", dy=-1).encode(
        x=XBar, xOffset=XOff, y=YL, text="lab:N"),
    alt.Chart(gbox_df).mark_rect(fill="#c4c4c4", stroke="#8a8a8a", strokeWidth=0.8).encode(
        x=XBar, xOffset=XOff, y=YL, y2="v2:Q"),
    alt.Chart(arr_l).mark_text(font="DejaVu Sans", fontSize=10, dx=-11).encode(x=XBar, xOffset=XOff, y=YL, text="t:N"),
    alt.Chart(arr_r).mark_text(font="DejaVu Sans", fontSize=10, dx=12).encode(x=XBar, xOffset=XOff, y=YL, text="t:N"),
)
right = alt.layer(
    alt.Chart(co_df).mark_bar().encode(x=XBar, xOffset=XOff, y=YR, y2="base:Q", color=alt.Color("col:N", scale=None)),
    alt.Chart(co_df).mark_text(font=FONT, fontSize=6.5, fontWeight="bold", baseline="bottom", dy=-1).encode(
        x=XBar, xOffset=XOff, y=YR, text="lab:N"),
    alt.Chart(pd.DataFrame({"v": [0.489]})).mark_rule(color="white", strokeWidth=2.5).encode(y=YR),
)
bars = alt.layer(left, right).resolve_scale(y="independent").properties(width=W, height=77)
pi = alt.vconcat(dos_chart, bars, spacing=13, bounds="flush")

chart = alt.concat(pa, pb, pc, pd_, pe, pf, pg, ph, pi, columns=3,
                   spacing={"row": 53, "column": 70}, bounds="flush", align="each").properties(
    padding=2
).configure_view(stroke="black", strokeWidth=1.2).configure_axis(
    labelFont=FONT, titleFont=FONT, labelFontWeight="bold", titleFontWeight="bold",
    labelFontSize=9.5, titleFontSize=11, labelColor="black", titleColor="black",
    domainColor="black", tickColor="black", tickSize=3, grid=False, labelPadding=1,
    titlePadding=3, labelFlush=False, labelOverlap=False, domainWidth=1
).configure_title(font=FONT)

chart.save("out.html", embed_options={"renderer": "svg", "actions": False})
